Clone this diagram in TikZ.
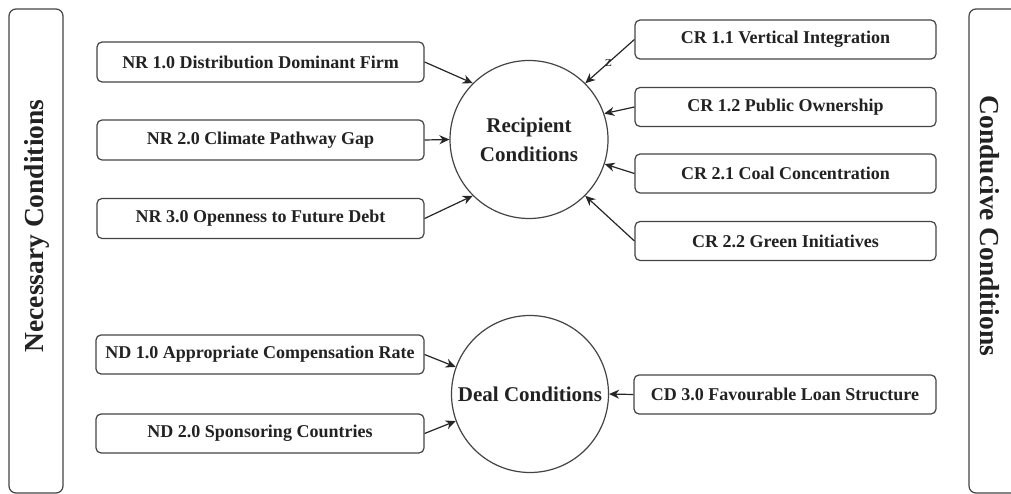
\documentclass[tikz,border=0pt]{standalone}
\usepackage{fontspec}
\setmainfont{Liberation Serif}
\usetikzlibrary{arrows.meta}
\definecolor{ln}{HTML}{444444}
\definecolor{tx}{HTML}{222222}
\tikzset{
  cbox/.style={draw=ln, line width=1.2pt, rounded corners=5pt, inner sep=0pt, text=tx,
     font=\fontsize{18}{20}\selectfont\bfseries},
  ccirc/.style={draw=ln, line width=1.2pt, circle, inner sep=0pt, align=center, text=tx,
     font=\fontsize{21}{29}\selectfont\bfseries},
  sidebar/.style={draw=ln, line width=1.2pt, rounded corners=7pt},
  sidelabel/.style={text=tx, font=\fontsize{27.5}{30}\selectfont\bfseries},
  conn/.style={draw=black!85, line width=1.2pt, -{Stealth[length=10pt,width=9pt]}},
  zmark/.style={text=tx, font=\fontsize{15}{16}\selectfont, inner sep=0pt},
}
\begin{document}
\begin{tikzpicture}[x=1pt,y=-1pt]
\useasboundingbox (0,0) rectangle (1011,494);
\clip (0,0) rectangle (1011,494);
\fill[white] (0,0) rectangle (1011,494);
% side bars
\draw[sidebar] (9,9) rectangle (63,493);
\draw[sidebar] (969,9) rectangle (1040,493);
\node[sidelabel, rotate=90] (nc) at (37,226) {Necessary Conditions};
\node[sidelabel, rotate=-90] (cc) at (990,226) {Conducive Conditions};
% circles
\node[ccirc, minimum size=158pt] (rc) at (529,139.5) {Recipient\\Conditions};
\node[ccirc, minimum size=157pt] (dc) at (530,394) {Deal Conditions};
% left boxes
\node[cbox, minimum width=327pt, minimum height=40pt] (nr1) at (260.5,62) {NR 1.0 Distribution Dominant Firm};
\node[cbox, minimum width=327pt, minimum height=40pt] (nr2) at (260.5,140) {NR 2.0 Climate Pathway Gap};
\node[cbox, minimum width=327pt, minimum height=40pt] (nr3) at (260.5,218.5) {NR 3.0 Openness to Future Debt};
\node[cbox, minimum width=328pt, minimum height=39pt] (nd1) at (260,354.5) {ND 1.0 Appropriate Compensation Rate};
\node[cbox, minimum width=328pt, minimum height=39pt] (nd2) at (260,433.5) {ND 2.0 Sponsoring Countries};
% right boxes
\node[cbox, minimum width=301pt, minimum height=39pt] (cr11) at (785.5,39.5) {CR 1.1 Vertical Integration};
\node[cbox, minimum width=301pt, minimum height=39pt] (cr12) at (785.5,107) {CR 1.2 Public Ownership};
\node[cbox, minimum width=301pt, minimum height=39pt] (cr21) at (785.5,173.5) {CR 2.1 Coal Concentration};
\node[cbox, minimum width=301pt, minimum height=39pt] (cr22) at (785.5,241) {CR 2.2 Green Initiatives};
\node[cbox, minimum width=302pt, minimum height=39pt] (cd3) at (785,394.5) {CD 3.0 Favourable Loan Structure};
% connectors
\draw[conn] (nr1.east) -- (rc.135);
\draw[conn] (nr2.east) -- (rc.west);
\draw[conn] (nr3.east) -- (rc.225);
\draw[conn] (cr11.west) -- node[pos=0.53, zmark] (zz) {z} (rc.45);
\draw[conn] (cr12.west) -- (rc.19);
\draw[conn] (cr21.west) -- (rc.-18);
\draw[conn] (cr22.west) -- (rc.-45);
\draw[conn] (nd1.east) -- (dc.160);
\draw[conn] (nd2.east) -- (dc.200);
\draw[conn] (cd3.west) -- (dc.east);
\end{tikzpicture}
\end{document}
